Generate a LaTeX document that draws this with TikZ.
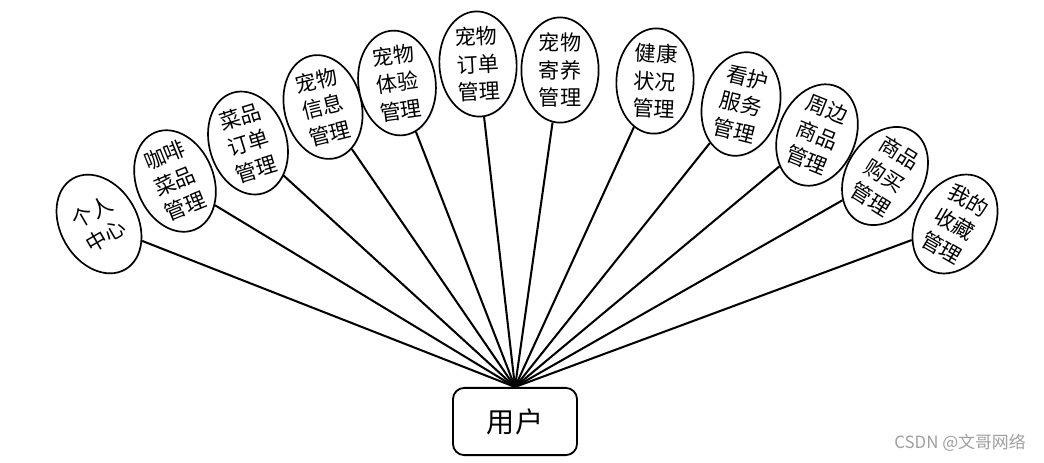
\documentclass[tikz,border=0pt]{standalone}
\usepackage{fontspec}
\setmainfont{Noto Sans CJK SC}
\usepackage{tikz}
\usetikzlibrary{shapes.geometric,shadows}
\tikzset{
	userbox/.style={draw, line width=1.3pt, rounded corners=8pt, minimum width=3.1cm,
		minimum height=1.68cm, font=\fontsize{20}{24}\selectfont},
	funcoval/.style={ellipse, draw, line width=1.2pt, fill=white, inner sep=0pt,
		minimum width=1.93cm, minimum height=2.62cm, align=center,
		font=\fontsize{15}{19.5}\selectfont,
		drop shadow={fill=blue!12, opacity=0.6, shadow xshift=0.8pt, shadow yshift=-0.8pt}},
	link/.style={line width=1.45pt},
	watermark/.style={font=\fontsize{12}{14}\selectfont, text=gray!75}
}
\begin{document}
\begin{tikzpicture}[x=0.025cm, y=-0.025cm]
	\useasboundingbox (0,0) rectangle (1044,462);
	
	%% ── User ────────────────────────────────────────────────────────
	\node[userbox] (user) at (515,421.5) {用户};
	
	%% ── Function ovals (left to right) ──────────────────────────────
	\node[funcoval, rotate=30]  (f1)  at (99,224)  {个人\\中心};
	\node[funcoval, rotate=22]  (f2)  at (175,181) {咖啡\\菜品\\管理};
	\node[funcoval, rotate=17]  (f3)  at (248,143) {菜品\\订单\\管理};
	\node[funcoval, rotate=14]  (f4)  at (323,107) {宠物\\信息\\管理};
	\node[funcoval, rotate=8]   (f5)  at (397,83)  {宠物\\体验\\管理};
	\node[funcoval, rotate=3]   (f6)  at (478,64)  {宠物\\订单\\管理};
	\node[funcoval]             (f7)  at (560,70)  {宠物\\寄养\\管理};
	\node[funcoval, rotate=-3]  (f8)  at (655,81)  {健康\\状况\\管理};
	\node[funcoval, rotate=-14] (f9)  at (741,104) {看护\\服务\\管理};
	\node[funcoval, rotate=-22] (f10) at (817,135) {周边\\商品\\管理};
	\node[funcoval, rotate=-32] (f11) at (885,176) {商品\\购买\\管理};
	\node[funcoval, rotate=-30] (f12) at (955,224) {我的\\收藏\\管理};
	
	%% ── Links ───────────────────────────────────────────────────────
	\draw[link] (user.north) -- (f1);
	\draw[link] (user.north) -- (f2);
	\draw[link] (user.north) -- (f3);
	\draw[link] (user.north) -- (f4);
	\draw[link] (user.north) -- (f5);
	\draw[link] (user.north) -- (f6);
	\draw[link] (user.north) -- (f7);
	\draw[link] (user.north) -- (f8);
	\draw[link] (user.north) -- (f9);
	\draw[link] (user.north) -- (f10);
	\draw[link] (user.north) -- (f11);
	\draw[link] (user.north) -- (f12);
	
	% watermark
	\node[watermark] (wm) at (960,443) {CSDN @文哥网络};
\end{tikzpicture}
\end{document}
